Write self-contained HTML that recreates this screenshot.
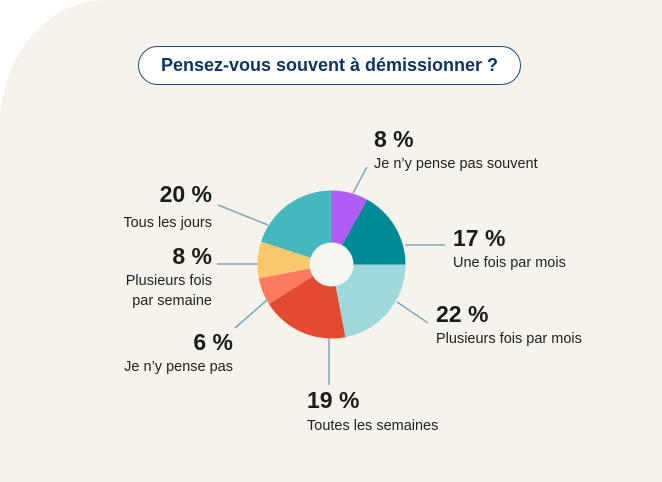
<!DOCTYPE html>
<html><head><meta charset="utf-8"><style>
html,body{margin:0;padding:0;background:#fff;}
body{width:662px;height:482px;overflow:hidden;position:relative;font-family:"Liberation Sans",sans-serif;}
#card{position:absolute;left:0;top:0;width:662px;height:482px;background:#f6f3ec;border-top-left-radius:105px 125px;}
#title{position:absolute;left:138px;top:46px;width:381px;height:37px;border:1.5px solid #1d4a75;border-radius:20px;background:#fff;color:#0d3462;font-weight:bold;font-size:18px;line-height:37px;text-align:center;}
svg{position:absolute;left:0;top:0;}
</style></head><body>
<div id="card"></div>
<div id="title">Pensez-vous souvent à démissionner ?</div>
<svg id="chart" width="662" height="482"></svg>
<script>
const categories=["Je n’y pense pas souvent","Une fois par mois","Plusieurs fois par mois","Toutes les semaines","Je n’y pense pas","Plusieurs fois|par semaine","Tous les jours"];
const values=[8,17,22,19,6,8,20];
const valueLabels=["8 %","17 %","22 %","19 %","6 %","8 %","20 %"];
const colors=["#b25cf6","#008a98","#a0d9dc","#e24a31","#fd7a5c","#f9c76c","#45b8bf"];
const NS="http://www.w3.org/2000/svg";
const svg=document.getElementById('chart');
const cx=331.5,cy=264.5,R=74,r=22;
const total=values.reduce((a,b)=>a+b,0);
function pt(a,rad){return [cx+rad*Math.sin(a),cy-rad*Math.cos(a)];}
function mk(t,attrs){const e=document.createElementNS(NS,t);for(const k in attrs)e.setAttribute(k,attrs[k]);svg.appendChild(e);return e;}
// label layout (positions only)
const lay=[
 {lx:374,anchor:"start",ny:147,ly:[168],l1:[353,193],l2:[367,167]},
 {lx:453,anchor:"start",ny:246,ly:[267],l1:[405,245],l2:[445,245]},
 {lx:436,anchor:"start",ny:322,ly:[343],l1:[397,302],l2:[428,323]},
 {lx:307,anchor:"start",ny:408,ly:[430],l1:[329,338],l2:[329,385]},
 {lx:233,anchor:"end",ny:350,ly:[371],l1:[267,300],l2:[235,328]},
 {lx:212,anchor:"end",ny:264,ly:[285,305],l1:[258,264],l2:[217,264]},
 {lx:212,anchor:"end",ny:202,ly:[227],l1:[268,225],l2:[218,205]}
];
let acc=0;
values.forEach((v,i)=>{
 const a0=acc/total*2*Math.PI;acc+=v;const a1=acc/total*2*Math.PI;
 const [x0,y0]=pt(a0,R),[x1,y1]=pt(a1,R);
 const large=(a1-a0)>Math.PI?1:0;
 const p=mk('path',{d:`M${cx},${cy}L${x0},${y0}A${R},${R} 0 ${large} 1 ${x1},${y1}Z`,fill:colors[i]});
 
 
 const L=lay[i];
 const ln=mk('line',{x1:L.l1[0],y1:L.l1[1],x2:L.l2[0],y2:L.l2[1],stroke:"#7ea7b6","stroke-width":1.5});
 
 
 const n=mk('text',{x:L.lx,y:L.ny,"text-anchor":L.anchor,"font-size":23,"font-weight":"bold",fill:"#1b1b1b"});
 n.textContent=valueLabels[i];
 
 
 categories[i].split('|').forEach((s,j)=>{
  const t=mk('text',{x:L.lx,y:L.ly[j],"text-anchor":L.anchor,"font-size":14.5,fill:"#222"});
  t.textContent=s;
  
  
 });
});
const hole=mk('circle',{cx:cx,cy:cy,r:r,fill:"#f8f6f1"});


</script>
</body></html>
